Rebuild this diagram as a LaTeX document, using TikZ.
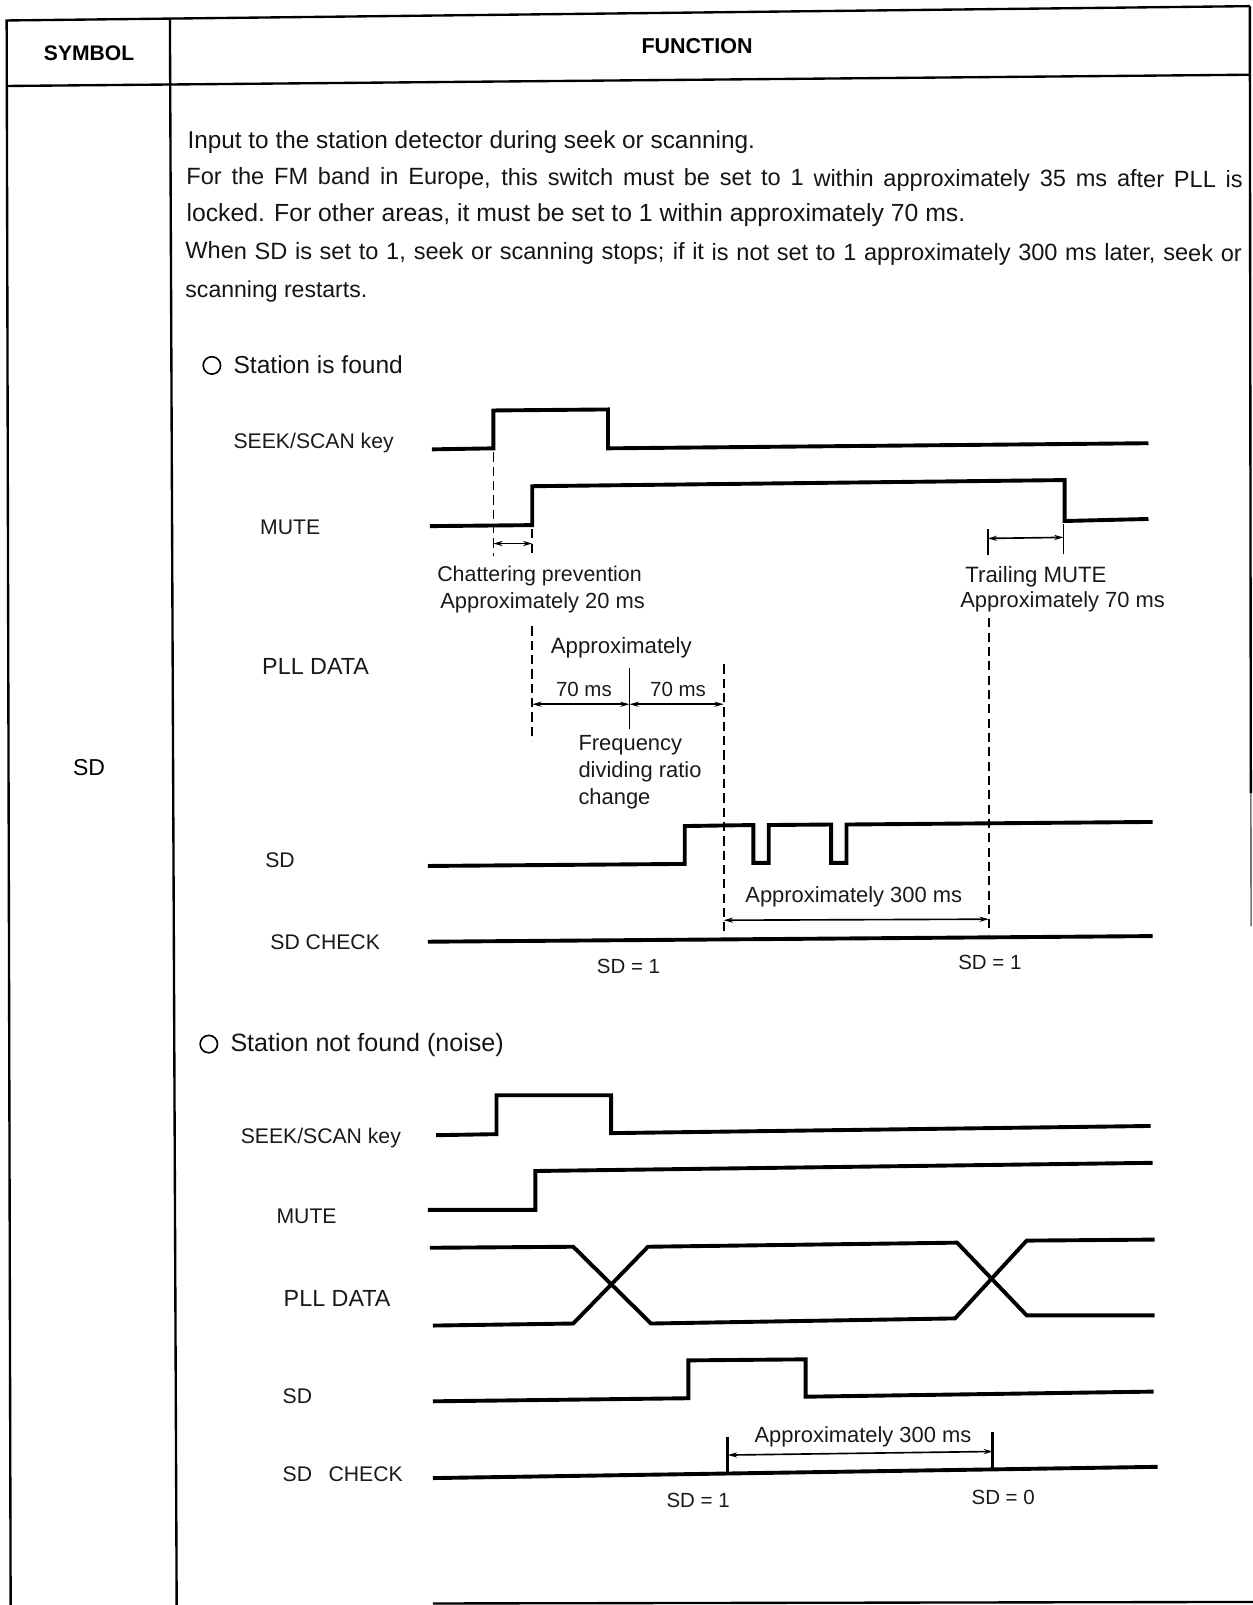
\documentclass[tikz,border=0pt]{standalone}
\usepackage{fontspec}
\setmainfont{Liberation Sans}
\usetikzlibrary{arrows.meta}
\newcommand{\fs}[1]{\fontsize{#1}{#1}\selectfont}
\tikzset{
  x=1pt,y=-1pt,
  txt/.style={anchor=west,inner sep=0pt,font=\fs{23.8},text=black!92},
  lab/.style={anchor=west,inner sep=0pt,font=\fs{21.4},text=black!90},
  sidelab/.style={lab,font=\fs{20.7}},
  eqlab/.style={lab,font=\fs{20}},
  headt/.style={inner sep=0pt,font=\fs{20.6}\bfseries},
  border/.style={line width=2.3pt},
  sig/.style={line width=3.8pt,line join=miter},
  dimline/.style={line width=1.6pt,{Stealth[length=9pt,width=5pt]}-{Stealth[length=9pt,width=5pt]}},
  tickline/.style={line width=1.6pt},
  dashy/.style={line width=1.6pt,dash pattern=on 9pt off 5pt},
  mark circle/.style={circle,draw,line width=1.6pt,minimum size=17pt,inner sep=0pt},
}
\begin{document}
\begin{tikzpicture}
\useasboundingbox (0,0) rectangle (1224,1568);
% table
\draw[border] (10.4,1568) -- (6.5,20) -- (1221,6);
\draw[border] (1221,6) -- (1222,775);
\draw[line width=1.6pt,black!55] (1222,775) -- (1222.3,905);
\draw[border] (6.5,84) -- (1221,73);
\draw[border] (166,18) -- (172.6,1568);
\draw[border] (423,1566.5) -- (1224,1565);
\node[headt] (hsym) at (87,52) {SYMBOL};
\node[headt,font=\fs{21}\bfseries] (hfun) at (681,45) {FUNCTION};
\node[anchor=center,inner sep=0pt,font=\fs{22.5}] (sym) at (87,750) {SD};
% paragraph
\node[txt] (p1) at (183,138.5) {Input to the station detector during seek or scanning.};
\node[txt,font=\fs{23},rotate=-0.17] (p2) at (182,174) {\makebox[1032pt][s]{For the FM band in Europe, this switch must be set to 1 within approximately 35 ms after PLL is}};
\node[txt,font=\fs{24.2}] (p3) at (182,210) {locked. For other areas, it must be set to 1 within approximately 70 ms.};
\node[txt,font=\fs{23},rotate=-0.12] (p4) at (181,247) {\makebox[1032pt][s]{When SD is set to 1, seek or scanning stops; if it is not set to 1 approximately 300 ms later, seek or}};
\node[txt,font=\fs{22.5}] (p5) at (181,285) {scanning restarts.};
% section 1
\node[mark circle] (c1) at (207,357) {};
\node[txt,font=\fs{24}] (s1) at (228,356) {Station is found};
\node[sidelab] (a1) at (228,433) {SEEK/SCAN key};
\node[sidelab] (a2) at (254,515.5) {MUTE};
\node[lab,font=\fs{22.8}] (a3) at (256,651) {PLL DATA};
\node[sidelab] (a4) at (259,840) {SD};
\node[sidelab] (a5) at (264,920.5) {SD CHECK};
\draw[sig] (422,439) -- (482,438) -- (482,401) -- (594,400) -- (594,438) -- (1122,433);
\draw[sig] (420,514) -- (520,513) -- (520,475) -- (1040,469) -- (1040,509) -- (1122,507);
\draw[sig] (418,846) -- (669,844) -- (669,807) -- (736,806) -- (736,843) -- (751,843) -- (751,806) -- (812,805.5) -- (812,843) -- (827,843) -- (827,805.5) -- (1126,803);
\draw[sig] (418,920) -- (1126,914.5);
\coordinate (d1a) at (482,442); \coordinate (d1b) at (482,543);
\coordinate (d2a) at (520,517); \coordinate (d2b) at (520,543);
\draw[dashy] (d1a) -- (d1b);
\draw[dashy] (d2a) -- (d2b);
\draw[dimline] (482,531) -- (520,531);
\coordinate (t1) at (965,517); \coordinate (t1b) at (965,542);
\coordinate (t2) at (1039,512); \coordinate (t2b) at (1039,541);
\draw[tickline] (t1) -- (t1b);
\draw[tickline] (t2) -- (t2b);
\draw[dimline] (965,526) -- (1039,525);
\node[lab,font=\fs{20.9}] (b1) at (427,563) {Chattering prevention};
\node[lab] (b2) at (430,589) {Approximately 20 ms};
\node[lab,font=\fs{21.7}] (b3) at (943,563) {Trailing MUTE};
\node[lab] (b4) at (938,588) {Approximately 70 ms};
\node[lab,font=\fs{21.7}] (b5) at (538,633) {Approximately};
\node[eqlab] (b6) at (543,674) {70 ms};
\node[eqlab] (b7) at (635,674) {70 ms};
\node[lab] (b8) at (565,728) {Frequency};
\node[lab] (b9) at (565,754) {dividing ratio};
\node[lab] (b10) at (565,780) {change};
\node[lab] (b11) at (728,876) {Approximately 300 ms};
\node[eqlab] (b12) at (583,944) {SD = 1};
\node[eqlab] (b13) at (936,940) {SD = 1};
\draw[dashy] (520,612) -- (520,724);
\draw[dashy] (707,649) -- (707,912);
\draw[dashy] (966,604) -- (966,912);
\draw[tickline] (615,653) -- (615,712);
\draw[dimline] (520,688) -- (615,688);
\draw[dimline] (615,688) -- (707,688);
\draw[dimline] (707,899) -- (966,898);
% section 2
\node[mark circle] (c2) at (204,1020) {};
\node[txt,font=\fs{24.5}] (s2) at (225,1021) {Station not found (noise)};
\node[sidelab] (e1) at (235,1112) {SEEK/SCAN key};
\node[sidelab] (e2) at (270,1188.5) {MUTE};
\node[lab,font=\fs{22.8}] (e3) at (277,1268.5) {PLL DATA};
\node[sidelab] (e4) at (276,1364) {SD};
\node[sidelab] (e5) at (276,1440) {SD\hspace{0.5em} CHECK};
\draw[sig] (426,1109) -- (485,1108) -- (485,1070) -- (597,1070) -- (597,1107) -- (1124,1100);
\draw[sig] (418,1182) -- (523,1182) -- (523,1144) -- (1126,1136);
\draw[sig] (420,1219) -- (560,1218) -- (636,1293) -- (933,1288) -- (1003,1212) -- (1128,1211);
\draw[sig] (423,1295) -- (560,1293) -- (633,1218) -- (935,1214) -- (1003,1285) -- (1128,1285);
\draw[sig] (423,1369) -- (672.5,1366) -- (672.5,1329) -- (787,1328) -- (787,1364.5) -- (1127,1359.5);
\draw[sig] (423,1444) -- (1131,1433);
\draw[line width=3pt] (711,1403.5) -- (711,1439);
\draw[line width=3pt] (970,1398.5) -- (970,1434);
\draw[dimline] (711,1421.5) -- (970,1418);
\node[lab] (f1) at (737,1404) {Approximately 300 ms};
\node[eqlab] (f2) at (651,1466) {SD = 1};
\node[eqlab] (f3) at (949,1463) {SD = 0};
\end{tikzpicture}
\end{document}
